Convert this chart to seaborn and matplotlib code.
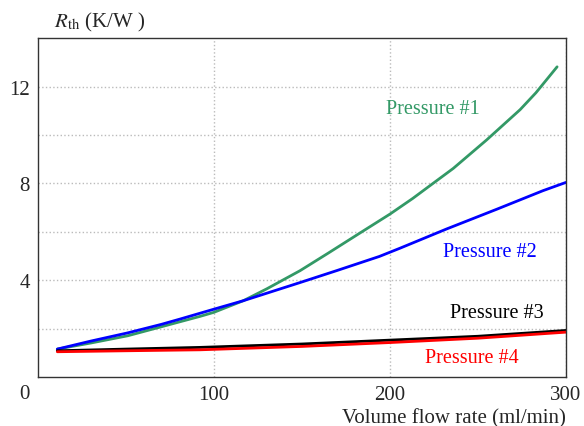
import numpy as np
import pandas as pd
import matplotlib
matplotlib.use("Agg")
import matplotlib.pyplot as plt
import seaborn as sns

# values
flow_1 = [11, 30, 51, 70, 80.7, 92, 100, 116.7, 130, 148.9, 165, 183, 200, 213, 223, 236, 255, 274, 283, 295]
rth_1 = [1.15, 1.40, 1.70, 2.07, 2.28, 2.50, 2.67, 3.15, 3.64, 4.39, 5.12, 5.95, 6.73, 7.38, 7.92, 8.62, 9.80, 11.05, 11.75, 12.82]

flow_2 = [11, 30, 51, 70, 80.7, 100, 116.7, 130, 148.9, 170, 194, 205.7, 232, 261, 287, 300]
rth_2 = [1.15, 1.48, 1.82, 2.17, 2.39, 2.80, 3.15, 3.46, 3.90, 4.40, 4.98, 5.32, 6.11, 6.94, 7.70, 8.04]

flow_3 = [11, 50, 92, 150, 200, 250, 300]
rth_3 = [1.08, 1.15, 1.22, 1.36, 1.52, 1.68, 1.92]

flow_4 = [11, 50, 92, 150, 200, 250, 300]
rth_4 = [1.04, 1.08, 1.12, 1.26, 1.42, 1.60, 1.85]

labels = ["Pressure #1", "Pressure #2", "Pressure #3", "Pressure #4"]
colors = ["#339966", "#0000ff", "#000000", "#ff0000"]

sns.set_style("white")
plt.rcParams['font.family'] = ['Liberation Serif', 'DejaVu Serif']
plt.rcParams['mathtext.fontset'] = 'stix'

fig = plt.figure(figsize=(5.84, 4.27), dpi=100)
ax = fig.add_axes([0.065, 0.115, 0.904, 0.793])

series = [(flow_1, rth_1), (flow_2, rth_2), (flow_3, rth_3), (flow_4, rth_4)]
for (fx, ry), lab, c in zip(series, labels, colors):
    df = pd.DataFrame({'flow': fx, 'rth': ry})
    sns.lineplot(data=df, x='flow', y='rth', color=c, lw=2.0, ax=ax)

# labels next to curves
ax.text(197.7, 11.1, labels[0], color=colors[0], fontsize=14.5, va='center')
ax.text(230, 5.2, labels[1], color=colors[1], fontsize=14.5, va='center')
ax.text(234, 2.68, labels[2], color=colors[2], fontsize=14.5, va='center')
ax.text(220, 0.8, labels[3], color=colors[3], fontsize=14.5, va='center')

ax.set_xlim(0, 300)
ax.set_ylim(0, 14)
ax.set_xticks([100, 200, 300])
ax.set_yticks([4, 8, 12])
ax.set_yticks([2, 6, 10], minor=True)
ax.tick_params(length=0, labelsize=15, pad=6)
ax.tick_params(which='minor', length=0)
ax.grid(True, which='both', color='#bbbbbb', ls=':', lw=1)

for s in ax.spines.values():
    s.set_color('#333333')
    s.set_linewidth(1)

ax.set_xlabel('')
ax.set_ylabel('')
ax.text(-0.025, -0.05, '0', transform=ax.transAxes, fontsize=15, ha='center', va='center')
ax.text(0.03, 1.05, r'$R_{\rm th}$ (K/W )', transform=ax.transAxes, fontsize=15, va='center')
ax.text(1.0, -0.12, 'Volume flow rate (ml/min)', transform=ax.transAxes, fontsize=15,
        ha='right', va='center')

plt.savefig('out.png', dpi=100)
